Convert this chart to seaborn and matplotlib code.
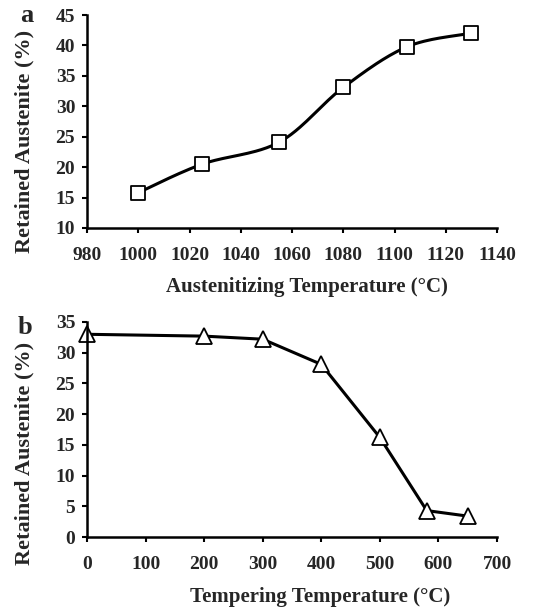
import numpy as np
import pandas as pd
import matplotlib
matplotlib.use("Agg")
import matplotlib.pyplot as plt
import seaborn as sns

# Panel a data
aust_temp = [1000, 1025, 1055, 1080, 1105, 1130]
aust_ra = [15.8, 20.5, 24.1, 33.1, 39.8, 42.0]
# Panel b data
temp_temp = [0, 200, 300, 400, 500, 580, 650]
temp_ra = [33.0, 32.7, 32.2, 28.1, 16.2, 4.3, 3.4]

a_xticks = list(range(980, 1141, 20))
a_yticks = list(range(10, 46, 5))
b_xticks = list(range(0, 701, 100))
b_yticks = list(range(0, 36, 5))

sns.set_style("white")
plt.rcParams['font.family'] = ['Liberation Serif', 'DejaVu Serif']
plt.rcParams['font.weight'] = 'bold'


def smooth(xs, ys, n=30):
    """Excel-style smoothed line (cubic Bezier through the points)."""
    P = np.column_stack([xs, ys]).astype(float)
    out = [P[0]]
    m = len(P)
    for i in range(m - 1):
        p0 = P[i - 1] if i > 0 else P[i]
        p1 = P[i]
        p2 = P[i + 1]
        p3 = P[i + 2] if i + 2 < m else P[i + 1]
        c1 = p1 + (p2 - p0) / 6
        c2 = p2 - (p3 - p1) / 6
        t = np.linspace(0, 1, n)[1:, None]
        seg = ((1 - t) ** 3) * p1 + 3 * ((1 - t) ** 2) * t * c1 + 3 * (1 - t) * t ** 2 * c2 + t ** 3 * p2
        out.extend(seg)
    out = np.array(out)
    return out[:, 0], out[:, 1]


W, H = 558, 610
fig = plt.figure(figsize=(W / 100, H / 100), dpi=100)


def rect(l, t, r, b):
    return [l / W, 1 - b / H, (r - l) / W, (b - t) / H]


axa = fig.add_axes(rect(87, 15, 497, 228))
axb = fig.add_axes(rect(87, 322, 497, 537))

sx, sy = smooth(aust_temp, aust_ra)
df_s = pd.DataFrame({"x": sx, "y": sy})
sns.lineplot(data=df_s, x="x", y="y", ax=axa, color="black", linewidth=2.2, sort=False, estimator=None)
df_a = pd.DataFrame({"x": aust_temp, "y": aust_ra})
sns.scatterplot(data=df_a, x="x", y="y", ax=axa, marker="s", s=110, facecolor="white",
                edgecolor="black", linewidth=1.3, zorder=5)

df_b = pd.DataFrame({"x": temp_temp, "y": temp_ra})
sns.lineplot(data=df_b, x="x", y="y", ax=axb, color="black", linewidth=2.2, estimator=None,
             marker="^", markersize=11, markerfacecolor="white", markeredgecolor="black",
             markeredgewidth=1.3)

for ax, xt, yt, xl, ycy, xcx, xcy in [
    (axa, a_xticks, a_yticks, "Austenitizing Temperature (°C)", 0.406, 0.537, -0.228),
    (axb, b_xticks, b_yticks, "Tempering Temperature (°C)", 0.388, 0.568, -0.232),
]:
    ax.set_xlim(xt[0], xt[-1])
    ax.set_ylim(yt[0], yt[-1])
    ax.set_xticks(xt)
    ax.set_yticks(yt)
    ax.set_xticklabels([str(v) for v in xt], fontsize=14, fontweight="bold")
    ax.set_yticklabels([str(v) for v in yt], fontsize=14, fontweight="bold")
    ax.set_xlabel(xl, fontsize=15, fontweight="bold")
    ax.xaxis.set_label_coords(xcx, xcy)
    ax.set_ylabel("Retained Austenite (%)", fontsize=16, fontweight="bold")
    ax.yaxis.set_label_coords(-0.129, ycy)
    for s in ["top", "right"]:
        ax.spines[s].set_visible(False)
    for s in ["left", "bottom"]:
        ax.spines[s].set_linewidth(1.8)
        ax.spines[s].set_color("black")
    ax.tick_params(axis="both", direction="out", length=3.5, width=1.5, color="black",
                   left=True, bottom=True)
    ax.tick_params(axis="x", pad=10)
    ax.tick_params(axis="y", pad=5)
    for c in ax.collections + ax.lines:
        c.set_clip_on(False)

fig.text(27 / W, 1 - 16 / H, "a", fontsize=19, fontweight="bold", ha="center", va="center")
fig.text(25 / W, 1 - 327 / H, "b", fontsize=19, fontweight="bold", ha="center", va="center")

fig.savefig("out.png", dpi=100)
